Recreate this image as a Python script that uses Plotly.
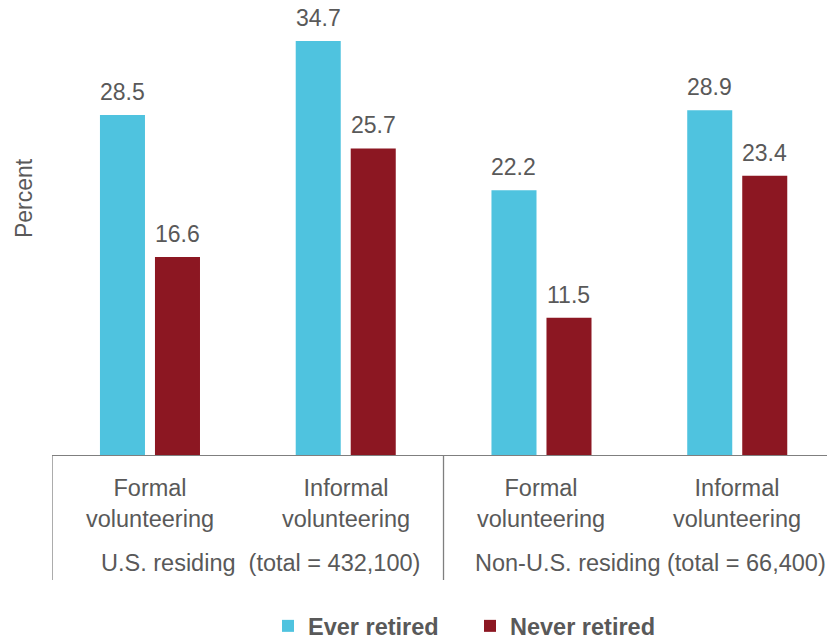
import plotly.graph_objects as go

categories = ["Formal<br>volunteering", "Informal<br>volunteering",
              "Formal<br>volunteering", "Informal<br>volunteering"]
ever_retired = [28.5, 34.7, 22.2, 28.9]
never_retired = [16.6, 25.7, 11.5, 23.4]
group_labels = ["U.S. residing  (total = 432,100)", "Non-U.S. residing (total = 66,400)"]
series_names = ["Ever retired", "Never retired"]
colors = ["#4FC3DF", "#8C1722"]

TXT = "#595959"
FONT = "Liberation Sans, Arial, sans-serif"
FS = 23.5

xs = list(range(len(categories)))
BW = 0.23
offsets = [-0.255, 0.026]

fig = go.Figure()
for name, vals, col, off in zip(series_names, [ever_retired, never_retired], colors, offsets):
    fig.add_trace(go.Bar(x=xs, y=vals, name=name, marker=dict(color=col, line=dict(width=0)),
                         width=BW, offset=off))

annotations = []
for vals, off in zip([ever_retired, never_retired], offsets):
    for xi, v in zip(xs, vals):
        annotations.append(dict(x=xi + off + BW / 2, y=v, xref="x", yref="y", text=f"{v:.1f}",
                                showarrow=False, xanchor="center", yanchor="bottom", yshift=8,
                                font=dict(size=FS - 0.5, color=TXT, family=FONT)))
for xi, c in zip(xs, categories):
    annotations.append(dict(x=xi, y=-0.0395, xref="x", yref="paper", text=c, showarrow=False,
                            xanchor="center", yanchor="top",
                            font=dict(size=FS, color=TXT, family=FONT)))
for gx, g in zip([0.269, 0.7725], group_labels):
    annotations.append(dict(x=gx, y=-0.204, xref="paper", yref="paper", text=g, showarrow=False,
                            xanchor="center", yanchor="top",
                            font=dict(size=FS, color=TXT, family=FONT)))
annotations.append(dict(x=-0.036, y=0.565, xref="paper", yref="paper", text="Percent",
                        textangle=-90, showarrow=False, xanchor="center", yanchor="middle",
                        font=dict(size=FS - 0.5, color=TXT, family=FONT)))

shapes = []
for sx in [-0.5, 1.5]:
    shapes.append(dict(type="line", xref="x", yref="paper", x0=sx, x1=sx, y0=0, y1=-0.2747,
                       line=dict(color="#7F7F7F", width=1.3)))

fig.update_layout(
    width=827, height=639,
    margin=dict(l=52, r=0, t=0, b=184, autoexpand=False),
    plot_bgcolor="white", paper_bgcolor="white",
    font=dict(family=FONT, size=FS, color=TXT),
    xaxis=dict(range=[-0.5, 3.459], showticklabels=False, showgrid=False, zeroline=False,
               showline=True, linecolor="#7F7F7F", linewidth=1.3, ticks=""),
    yaxis=dict(range=[0, 38.14], showticklabels=False, showgrid=False, zeroline=False,
               showline=False, ticks=""),
    showlegend=True,
    legend=dict(orientation="h", x=0.2787, xanchor="left", y=-0.376, yanchor="middle",
                entrywidth=157, entrywidthmode="pixels",
                font=dict(size=FS, color=TXT, family=FONT, weight="bold")),
    annotations=annotations,
    shapes=shapes,
)

fig.write_html("out.html", config={"displayModeBar": False},
               post_script="document.body.style.margin='0';document.body.style.overflow='hidden';")
